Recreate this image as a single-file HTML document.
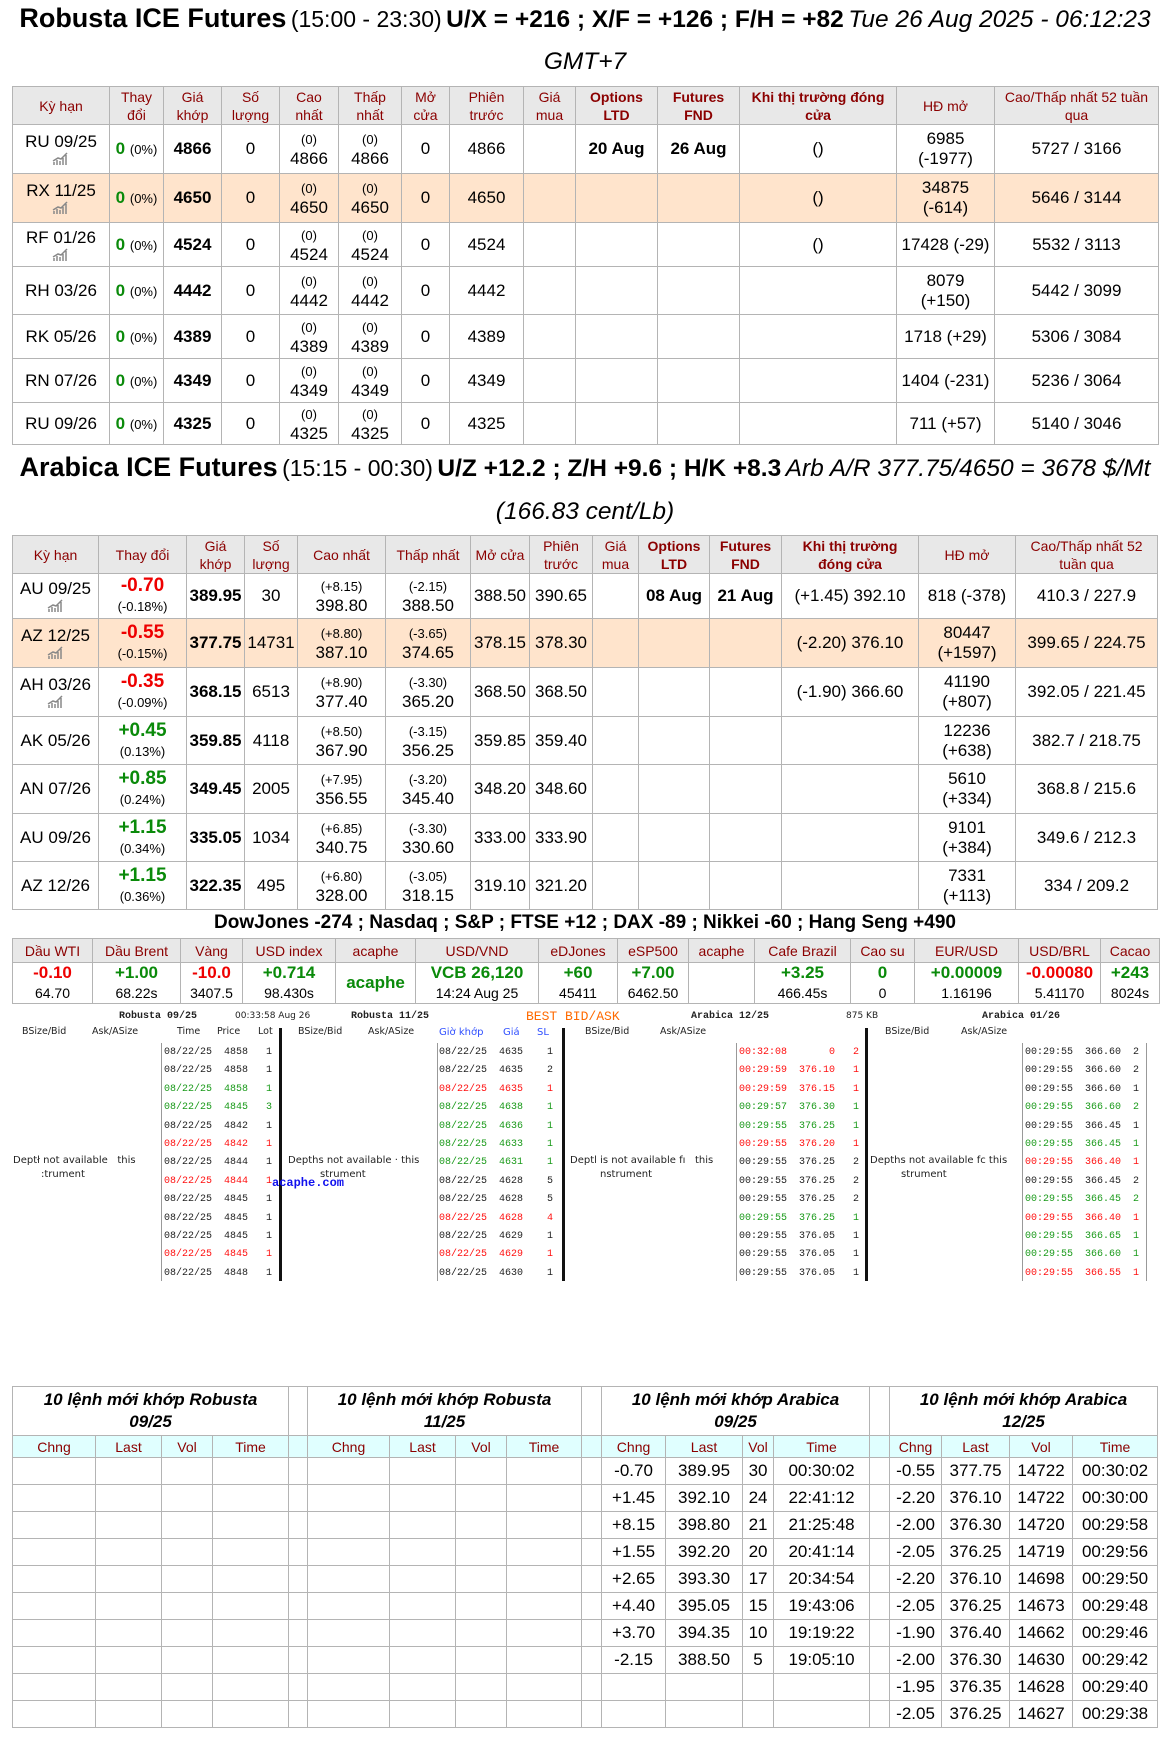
<!DOCTYPE html>
<html><head><meta charset="utf-8">
<style>
*{box-sizing:border-box;margin:0;padding:0}
body{width:1170px;height:1743px;background:#fff;font-family:"Liberation Sans",Arial,sans-serif;color:#000;position:relative;overflow:hidden}
.ttl{position:absolute;left:0;width:1170px;text-align:center;white-space:nowrap}
table{border-collapse:collapse;table-layout:fixed;position:absolute}
td,th{border:1px solid #b4b4b4;text-align:center;vertical-align:middle;font-size:17px;line-height:20px;overflow:hidden;white-space:nowrap}
th{background:#e8e8e8;color:#8b0000;font-weight:normal;font-size:14px;line-height:18px;white-space:normal}
th.b{font-weight:bold}
tr.hl td{background:#ffe4cc}
.g{color:#0a8a0a;font-weight:bold}
.r{color:#ee0000;font-weight:bold}
.s{font-size:13px;line-height:15px}
.b{font-weight:bold}
.ic{display:block;margin:0 auto;width:18px;height:14px}
.ob{position:absolute;font-family:"Liberation Mono","DejaVu Sans Mono",monospace;font-size:10px;line-height:18.4px;white-space:pre;color:#222}
.ob .G{color:#1a9a1a}.ob .R{color:#ff1010}
.lbl{position:absolute;font-family:"DejaVu Sans","Liberation Sans",sans-serif;font-size:10px;color:#222;white-space:pre}
.vl{position:absolute;width:1px;background:#999}
.vk{position:absolute;width:3px;background:#111}
.bt th{background:#e0ffff}
.bt td{font-size:17px}
.bt td.t{background:#fff;font-weight:bold;font-style:italic;font-size:17px;line-height:22px;white-space:normal}
</style></head><body>

<div class="ttl" style="top:1px;line-height:34px"><span style="font-size:27px;font-weight:bold">Robusta ICE Futures</span> <span style="font-size:23px">(15:00 - 23:30)</span> <span style="font-size:24.5px;font-weight:bold">U/X = +216 ; X/F = +126 ; F/H = +82</span> <span style="font-size:24.5px;font-style:italic">Tue 26 Aug 2025 - 06:12:23</span></div>
<div class="ttl" style="top:45px;line-height:34px;font-size:24.5px;font-style:italic">GMT+7</div>

<table style="left:12px;top:86px;width:1146px">
<colgroup><col style="width:97px"><col style="width:54px"><col style="width:58px"><col style="width:58px"><col style="width:59px"><col style="width:63px"><col style="width:48px"><col style="width:74px"><col style="width:52px"><col style="width:82px"><col style="width:82px"><col style="width:157px"><col style="width:98px"><col style="width:164px"></colgroup>
<tr style="height:38px"><th>Kỳ hạn</th><th>Thay đổi</th><th>Giá khớp</th><th>Số lượng</th><th>Cao<br>nhất</th><th>Thấp nhất</th><th>Mở cửa</th><th>Phiên trước</th><th>Giá mua</th><th class="b">Options LTD</th><th class="b">Futures FND</th><th class="b">Khi thị trường đóng cửa</th><th>HĐ mở</th><th>Cao/Thấp nhất 52 tuần qua</th></tr>
<tr style="height:49px"><td>RU 09/25<svg class="ic" viewBox="0 0 18 14"><path d="M2 13V10M5 13V8M8 13V9M11 13V6M14 13V3M1 9L6 6L9 7L15 1" stroke="#888" stroke-width="1.5" fill="none"/></svg></td><td><span class="g">0</span> <span class="s">(0%)</span></td><td class="b">4866</td><td>0</td><td><span class="s">(0)</span><br>4866</td><td><span class="s">(0)</span><br>4866</td><td>0</td><td>4866</td><td></td><td class="b">20 Aug</td><td class="b">26 Aug</td><td>()</td><td>6985<br>(-1977)</td><td>5727 / 3166</td></tr>
<tr class="hl" style="height:49px"><td>RX 11/25<svg class="ic" viewBox="0 0 18 14"><path d="M2 13V10M5 13V8M8 13V9M11 13V6M14 13V3M1 9L6 6L9 7L15 1" stroke="#888" stroke-width="1.5" fill="none"/></svg></td><td><span class="g">0</span> <span class="s">(0%)</span></td><td class="b">4650</td><td>0</td><td><span class="s">(0)</span><br>4650</td><td><span class="s">(0)</span><br>4650</td><td>0</td><td>4650</td><td></td><td></td><td></td><td>()</td><td>34875<br>(-614)</td><td>5646 / 3144</td></tr>
<tr style="height:44px"><td>RF 01/26<svg class="ic" viewBox="0 0 18 14"><path d="M2 13V10M5 13V8M8 13V9M11 13V6M14 13V3M1 9L6 6L9 7L15 1" stroke="#888" stroke-width="1.5" fill="none"/></svg></td><td><span class="g">0</span> <span class="s">(0%)</span></td><td class="b">4524</td><td>0</td><td><span class="s">(0)</span><br>4524</td><td><span class="s">(0)</span><br>4524</td><td>0</td><td>4524</td><td></td><td></td><td></td><td>()</td><td>17428 (-29)</td><td>5532 / 3113</td></tr>
<tr style="height:48px"><td>RH 03/26</td><td><span class="g">0</span> <span class="s">(0%)</span></td><td class="b">4442</td><td>0</td><td><span class="s">(0)</span><br>4442</td><td><span class="s">(0)</span><br>4442</td><td>0</td><td>4442</td><td></td><td></td><td></td><td></td><td>8079<br>(+150)</td><td>5442 / 3099</td></tr>
<tr style="height:44px"><td>RK 05/26</td><td><span class="g">0</span> <span class="s">(0%)</span></td><td class="b">4389</td><td>0</td><td><span class="s">(0)</span><br>4389</td><td><span class="s">(0)</span><br>4389</td><td>0</td><td>4389</td><td></td><td></td><td></td><td></td><td>1718 (+29)</td><td>5306 / 3084</td></tr>
<tr style="height:44px"><td>RN 07/26</td><td><span class="g">0</span> <span class="s">(0%)</span></td><td class="b">4349</td><td>0</td><td><span class="s">(0)</span><br>4349</td><td><span class="s">(0)</span><br>4349</td><td>0</td><td>4349</td><td></td><td></td><td></td><td></td><td>1404 (-231)</td><td>5236 / 3064</td></tr>
<tr style="height:42px"><td>RU 09/26</td><td><span class="g">0</span> <span class="s">(0%)</span></td><td class="b">4325</td><td>0</td><td><span class="s">(0)</span><br>4325</td><td><span class="s">(0)</span><br>4325</td><td>0</td><td>4325</td><td></td><td></td><td></td><td></td><td>711 (+57)</td><td>5140 / 3046</td></tr>
</table>

<div class="ttl" style="top:450px;line-height:34px"><span style="font-size:27px;font-weight:bold">Arabica ICE Futures</span> <span style="font-size:23px">(15:15 - 00:30)</span> <span style="font-size:24.5px;font-weight:bold">U/Z +12.2 ; Z/H +9.6 ; H/K +8.3</span> <span style="font-size:24.5px;font-style:italic">Arb A/R 377.75/4650 = 3678 $/Mt</span></div>
<div class="ttl" style="top:495px;line-height:34px;font-size:24.5px;font-style:italic">(166.83 cent/Lb)</div>

<table style="left:12px;top:535px;width:1145px">
<colgroup><col style="width:86px"><col style="width:88px"><col style="width:58px"><col style="width:53px"><col style="width:88px"><col style="width:85px"><col style="width:59px"><col style="width:63px"><col style="width:46px"><col style="width:71px"><col style="width:72px"><col style="width:137px"><col style="width:97px"><col style="width:142px"></colgroup>
<tr style="height:38px"><th>Kỳ hạn</th><th>Thay đổi</th><th>Giá khớp</th><th>Số lượng</th><th>Cao nhất</th><th>Thấp nhất</th><th>Mở cửa</th><th>Phiên trước</th><th>Giá mua</th><th class="b">Options LTD</th><th class="b">Futures FND</th><th class="b">Khi thị trường<br>đóng cửa</th><th>HĐ mở</th><th>Cao/Thấp nhất 52 tuần qua</th></tr>
<tr style="height:45px"><td>AU 09/25<svg class="ic" viewBox="0 0 18 14"><path d="M2 13V10M5 13V8M8 13V9M11 13V6M14 13V3M1 9L6 6L9 7L15 1" stroke="#888" stroke-width="1.5" fill="none"/></svg></td><td><span class="r" style="font-size:19px">-0.70</span><br><span class="s">(-0.18%)</span></td><td class="b">389.95</td><td>30</td><td><span class="s">(+8.15)</span><br>398.80</td><td><span class="s">(-2.15)</span><br>388.50</td><td>388.50</td><td>390.65</td><td></td><td class="b">08 Aug</td><td class="b">21 Aug</td><td>(+1.45) 392.10</td><td>818 (-378)</td><td>410.3 / 227.9</td></tr>
<tr class="hl" style="height:49px"><td>AZ 12/25<svg class="ic" viewBox="0 0 18 14"><path d="M2 13V10M5 13V8M8 13V9M11 13V6M14 13V3M1 9L6 6L9 7L15 1" stroke="#888" stroke-width="1.5" fill="none"/></svg></td><td><span class="r" style="font-size:19px">-0.55</span><br><span class="s">(-0.15%)</span></td><td class="b">377.75</td><td>14731</td><td><span class="s">(+8.80)</span><br>387.10</td><td><span class="s">(-3.65)</span><br>374.65</td><td>378.15</td><td>378.30</td><td></td><td></td><td></td><td>(-2.20) 376.10</td><td>80447<br>(+1597)</td><td>399.65 / 224.75</td></tr>
<tr style="height:49px"><td>AH 03/26<svg class="ic" viewBox="0 0 18 14"><path d="M2 13V10M5 13V8M8 13V9M11 13V6M14 13V3M1 9L6 6L9 7L15 1" stroke="#888" stroke-width="1.5" fill="none"/></svg></td><td><span class="r" style="font-size:19px">-0.35</span><br><span class="s">(-0.09%)</span></td><td class="b">368.15</td><td>6513</td><td><span class="s">(+8.90)</span><br>377.40</td><td><span class="s">(-3.30)</span><br>365.20</td><td>368.50</td><td>368.50</td><td></td><td></td><td></td><td>(-1.90) 366.60</td><td>41190<br>(+807)</td><td>392.05 / 221.45</td></tr>
<tr style="height:48px"><td>AK 05/26</td><td><span class="g" style="font-size:19px">+0.45</span><br><span class="s">(0.13%)</span></td><td class="b">359.85</td><td>4118</td><td><span class="s">(+8.50)</span><br>367.90</td><td><span class="s">(-3.15)</span><br>356.25</td><td>359.85</td><td>359.40</td><td></td><td></td><td></td><td></td><td>12236<br>(+638)</td><td>382.7 / 218.75</td></tr>
<tr style="height:49px"><td>AN 07/26</td><td><span class="g" style="font-size:19px">+0.85</span><br><span class="s">(0.24%)</span></td><td class="b">349.45</td><td>2005</td><td><span class="s">(+7.95)</span><br>356.55</td><td><span class="s">(-3.20)</span><br>345.40</td><td>348.20</td><td>348.60</td><td></td><td></td><td></td><td></td><td>5610<br>(+334)</td><td>368.8 / 215.6</td></tr>
<tr style="height:48px"><td>AU 09/26</td><td><span class="g" style="font-size:19px">+1.15</span><br><span class="s">(0.34%)</span></td><td class="b">335.05</td><td>1034</td><td><span class="s">(+6.85)</span><br>340.75</td><td><span class="s">(-3.30)</span><br>330.60</td><td>333.00</td><td>333.90</td><td></td><td></td><td></td><td></td><td>9101<br>(+384)</td><td>349.6 / 212.3</td></tr>
<tr style="height:48px"><td>AZ 12/26</td><td><span class="g" style="font-size:19px">+1.15</span><br><span class="s">(0.36%)</span></td><td class="b">322.35</td><td>495</td><td><span class="s">(+6.80)</span><br>328.00</td><td><span class="s">(-3.05)</span><br>318.15</td><td>319.10</td><td>321.20</td><td></td><td></td><td></td><td></td><td>7331<br>(+113)</td><td>334 / 209.2</td></tr>
</table>

<div class="ttl" style="top:911px;line-height:24px;font-size:19px;font-weight:bold">DowJones -274 ; Nasdaq ; S&amp;P ; FTSE +12 ; DAX -89 ; Nikkei -60 ; Hang Seng +490</div>

<table style="left:12px;top:938px;width:1147px">
<colgroup><col style="width:80px"><col style="width:88px"><col style="width:62px"><col style="width:93px"><col style="width:80px"><col style="width:123px"><col style="width:79px"><col style="width:71px"><col style="width:66px"><col style="width:96px"><col style="width:64px"><col style="width:104px"><col style="width:82px"><col style="width:59px"></colgroup>
<tr style="height:24px"><th>Dầu WTI</th><th>Dầu Brent</th><th>Vàng</th><th>USD index</th><th>acaphe</th><th>USD/VND</th><th>eDJones</th><th>eSP500</th><th>acaphe</th><th>Cafe Brazil</th><th>Cao su</th><th>EUR/USD</th><th>USD/BRL</th><th>Cacao</th></tr>
<tr style="height:41px"><td><span class="r">-0.10</span><br><span style="font-size:14px">64.70</span></td><td><span class="g">+1.00</span><br><span style="font-size:14px">68.22s</span></td><td><span class="r">-10.0</span><br><span style="font-size:14px">3407.5</span></td><td><span class="g">+0.714</span><br><span style="font-size:14px">98.430s</span></td><td><span class="g">acaphe</span></td><td><span class="g">VCB 26,120</span><br><span style="font-size:14px">14:24 Aug 25</span></td><td><span class="g">+60</span><br><span style="font-size:14px">45411</span></td><td><span class="g">+7.00</span><br><span style="font-size:14px">6462.50</span></td><td></td><td><span class="g">+3.25</span><br><span style="font-size:14px">466.45s</span></td><td><span class="g">0</span><br><span style="font-size:14px">0</span></td><td><span class="g">+0.00009</span><br><span style="font-size:14px">1.16196</span></td><td><span class="r">-0.00080</span><br><span style="font-size:14px">5.41170</span></td><td><span class="g">+243</span><br><span style="font-size:14px">8024s</span></td></tr>
</table>

<!-- order book -->
<div class="lbl" style="left:119px;top:1011px;font-weight:bold;font-family:'Liberation Mono',monospace">Robusta 09/25</div>
<div class="lbl" style="left:235px;top:1011px;font-size:9px">00:33:58 Aug 26</div>
<div class="lbl" style="left:351px;top:1011px;font-weight:bold;font-family:'Liberation Mono',monospace">Robusta 11/25</div>
<div class="lbl" style="left:526px;top:1009px;font-size:13px;color:#ff6a00;font-family:'Liberation Mono',monospace">BEST BID/ASK</div>
<div class="lbl" style="left:691px;top:1011px;font-weight:bold;font-family:'Liberation Mono',monospace">Arabica 12/25</div>
<div class="lbl" style="left:846px;top:1011px;font-size:9px">875 KB</div>
<div class="lbl" style="left:982px;top:1011px;font-weight:bold;font-family:'Liberation Mono',monospace">Arabica 01/26</div>

<div class="lbl" style="left:22px;top:1026px;font-size:9.5px">BSize/Bid</div>
<div class="lbl" style="left:92px;top:1026px;font-size:9.5px">Ask/ASize</div>
<div class="lbl" style="left:177px;top:1026px;font-size:9.5px">Time</div>
<div class="lbl" style="left:217px;top:1026px;font-size:9.5px">Price</div>
<div class="lbl" style="left:258px;top:1026px;font-size:9.5px">Lot</div>
<div class="lbl" style="left:298px;top:1026px;font-size:9.5px">BSize/Bid</div>
<div class="lbl" style="left:368px;top:1026px;font-size:9.5px">Ask/ASize</div>
<div class="lbl" style="left:439px;top:1027px;font-size:10px;color:#3050ff">Giờ khớp</div>
<div class="lbl" style="left:503px;top:1027px;font-size:10px;color:#3050ff">Giá</div>
<div class="lbl" style="left:537px;top:1027px;font-size:10px;color:#3050ff">SL</div>
<div class="lbl" style="left:585px;top:1026px;font-size:9.5px">BSize/Bid</div>
<div class="lbl" style="left:660px;top:1026px;font-size:9.5px">Ask/ASize</div>
<div class="lbl" style="left:885px;top:1026px;font-size:9.5px">BSize/Bid</div>
<div class="lbl" style="left:961px;top:1026px;font-size:9.5px">Ask/ASize</div>

<div class="vl" style="left:161px;top:1043px;height:238px"></div>
<div class="vk" style="left:279px;top:1028px;height:253px"></div>
<div class="vl" style="left:437px;top:1043px;height:238px"></div>
<div class="vk" style="left:562px;top:1028px;height:253px"></div>
<div class="vl" style="left:736px;top:1043px;height:238px"></div>
<div class="vk" style="left:865px;top:1028px;height:253px"></div>
<div class="vl" style="left:1022px;top:1043px;height:238px"></div>
<div class="vl" style="left:1146px;top:1043px;height:238px"></div>

<div class="lbl" style="left:13px;top:1155px">Deptł not available   this</div>
<div class="lbl" style="left:41px;top:1169px">:trument</div>
<div class="lbl" style="left:288px;top:1155px">Depths not available · this</div>
<div class="lbl" style="left:320px;top:1169px">strument</div>
<div class="lbl" style="left:272px;top:1176px;font-family:'Liberation Mono',monospace;font-weight:bold;font-size:12px;color:#1010ee">acaphe.com</div>
<div class="lbl" style="left:570px;top:1155px">Deptl is not available fı   this</div>
<div class="lbl" style="left:600px;top:1169px">nstrument</div>
<div class="lbl" style="left:870px;top:1155px">Depths not available fc this</div>
<div class="lbl" style="left:901px;top:1169px">strument</div>

<div class="ob" style="left:164px;top:1044px">08/22/25  4858   1
08/22/25  4858   1
<span class="G">08/22/25  4858   1</span>
<span class="G">08/22/25  4845   3</span>
08/22/25  4842   1
<span class="R">08/22/25  4842   1</span>
08/22/25  4844   1
<span class="R">08/22/25  4844   1</span>
08/22/25  4845   1
08/22/25  4845   1
08/22/25  4845   1
<span class="R">08/22/25  4845   1</span>
08/22/25  4848   1</div>

<div class="ob" style="left:439px;top:1044px">08/22/25  4635    1
08/22/25  4635    2
<span class="R">08/22/25  4635    1</span>
<span class="G">08/22/25  4638    1</span>
<span class="G">08/22/25  4636    1</span>
<span class="G">08/22/25  4633    1</span>
<span class="G">08/22/25  4631    1</span>
08/22/25  4628    5
08/22/25  4628    5
<span class="R">08/22/25  4628    4</span>
08/22/25  4629    1
<span class="R">08/22/25  4629    1</span>
08/22/25  4630    1</div>

<div class="ob" style="left:739px;top:1044px"><span class="R">00:32:08       0   2</span>
<span class="R">00:29:59  376.10   1</span>
<span class="R">00:29:59  376.15   1</span>
<span class="G">00:29:57  376.30   1</span>
<span class="G">00:29:55  376.25   1</span>
<span class="R">00:29:55  376.20   1</span>
00:29:55  376.25   2
00:29:55  376.25   2
00:29:55  376.25   2
<span class="G">00:29:55  376.25   1</span>
00:29:55  376.05   1
00:29:55  376.05   1
00:29:55  376.05   1</div>

<div class="ob" style="left:1025px;top:1044px">00:29:55  366.60  2
00:29:55  366.60  2
00:29:55  366.60  1
<span class="G">00:29:55  366.60  2</span>
00:29:55  366.45  1
<span class="G">00:29:55  366.45  1</span>
<span class="R">00:29:55  366.40  1</span>
00:29:55  366.45  2
<span class="G">00:29:55  366.45  2</span>
<span class="R">00:29:55  366.40  1</span>
<span class="G">00:29:55  366.65  1</span>
<span class="G">00:29:55  366.60  1</span>
<span class="R">00:29:55  366.55  1</span></div>

<!-- bottom tables -->
<table class="bt" style="left:12px;top:1386px;width:1145px">
<colgroup><col style="width:83px"><col style="width:66px"><col style="width:51px"><col style="width:76px"><col style="width:19px"><col style="width:82px"><col style="width:66px"><col style="width:51px"><col style="width:75px"><col style="width:20px"><col style="width:64px"><col style="width:77px"><col style="width:31px"><col style="width:96px"><col style="width:20px"><col style="width:52px"><col style="width:68px"><col style="width:63px"><col style="width:85px"></colgroup>
<tr style="height:49px"><td class="t" colspan="4">10 lệnh mới khớp Robusta<br>09/25</td><td></td><td class="t" colspan="4">10 lệnh mới khớp Robusta<br>11/25</td><td></td><td class="t" colspan="4">10 lệnh mới khớp Arabica<br>09/25</td><td></td><td class="t" colspan="4">10 lệnh mới khớp Arabica<br>12/25</td></tr>
<tr style="height:22px"><th>Chng</th><th>Last</th><th>Vol</th><th>Time</th><th></th><th>Chng</th><th>Last</th><th>Vol</th><th>Time</th><th></th><th>Chng</th><th>Last</th><th>Vol</th><th>Time</th><th></th><th>Chng</th><th>Last</th><th>Vol</th><th>Time</th></tr>
<tr style="height:27px"><td></td><td></td><td></td><td></td><td></td><td></td><td></td><td></td><td></td><td></td><td>-0.70</td><td>389.95</td><td>30</td><td>00:30:02</td><td></td><td>-0.55</td><td>377.75</td><td>14722</td><td>00:30:02</td></tr>
<tr style="height:27px"><td></td><td></td><td></td><td></td><td></td><td></td><td></td><td></td><td></td><td></td><td>+1.45</td><td>392.10</td><td>24</td><td>22:41:12</td><td></td><td>-2.20</td><td>376.10</td><td>14722</td><td>00:30:00</td></tr>
<tr style="height:27px"><td></td><td></td><td></td><td></td><td></td><td></td><td></td><td></td><td></td><td></td><td>+8.15</td><td>398.80</td><td>21</td><td>21:25:48</td><td></td><td>-2.00</td><td>376.30</td><td>14720</td><td>00:29:58</td></tr>
<tr style="height:27px"><td></td><td></td><td></td><td></td><td></td><td></td><td></td><td></td><td></td><td></td><td>+1.55</td><td>392.20</td><td>20</td><td>20:41:14</td><td></td><td>-2.05</td><td>376.25</td><td>14719</td><td>00:29:56</td></tr>
<tr style="height:27px"><td></td><td></td><td></td><td></td><td></td><td></td><td></td><td></td><td></td><td></td><td>+2.65</td><td>393.30</td><td>17</td><td>20:34:54</td><td></td><td>-2.20</td><td>376.10</td><td>14698</td><td>00:29:50</td></tr>
<tr style="height:27px"><td></td><td></td><td></td><td></td><td></td><td></td><td></td><td></td><td></td><td></td><td>+4.40</td><td>395.05</td><td>15</td><td>19:43:06</td><td></td><td>-2.05</td><td>376.25</td><td>14673</td><td>00:29:48</td></tr>
<tr style="height:27px"><td></td><td></td><td></td><td></td><td></td><td></td><td></td><td></td><td></td><td></td><td>+3.70</td><td>394.35</td><td>10</td><td>19:19:22</td><td></td><td>-1.90</td><td>376.40</td><td>14662</td><td>00:29:46</td></tr>
<tr style="height:27px"><td></td><td></td><td></td><td></td><td></td><td></td><td></td><td></td><td></td><td></td><td>-2.15</td><td>388.50</td><td>5</td><td>19:05:10</td><td></td><td>-2.00</td><td>376.30</td><td>14630</td><td>00:29:42</td></tr>
<tr style="height:27px"><td></td><td></td><td></td><td></td><td></td><td></td><td></td><td></td><td></td><td></td><td></td><td></td><td></td><td></td><td></td><td>-1.95</td><td>376.35</td><td>14628</td><td>00:29:40</td></tr>
<tr style="height:27px"><td></td><td></td><td></td><td></td><td></td><td></td><td></td><td></td><td></td><td></td><td></td><td></td><td></td><td></td><td></td><td>-2.05</td><td>376.25</td><td>14627</td><td>00:29:38</td></tr>
</table>

</body></html>
